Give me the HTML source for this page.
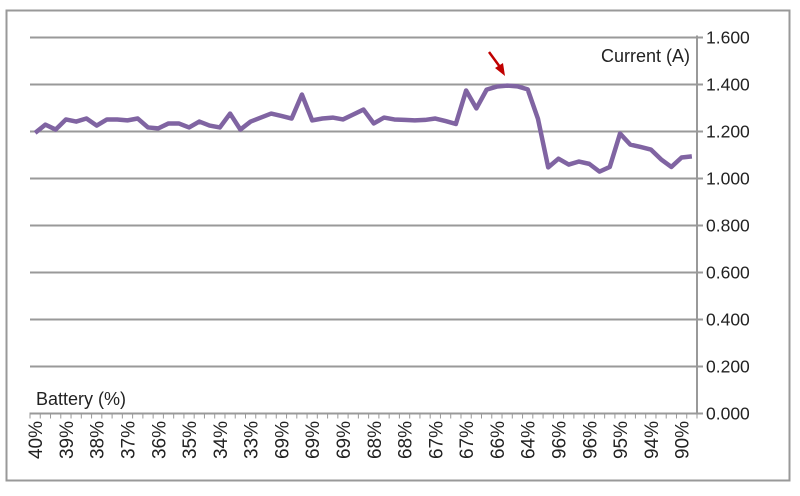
<!DOCTYPE html>
<html><head><meta charset="utf-8"><style>
body{margin:0;background:#fff;}
svg text{font-family:"Liberation Sans",sans-serif;}
</style></head><body>
<svg id="chart" width="800" height="491" xmlns="http://www.w3.org/2000/svg">
<rect x="6.5" y="10.5" width="783" height="470" fill="#fff" stroke="#999" stroke-width="2"/>
<g id="grid"></g><g id="axes"></g><g id="series"></g>
<text x="690" y="62" text-anchor="end" font-size="18" fill="#222">Current (A)</text>
<text x="36" y="405" font-size="18" fill="#222">Battery (%)</text>
<g>
<line x1="489" y1="52" x2="500" y2="67" stroke="#c00000" stroke-width="2.5"/>
<polygon points="505,76 495,68 503,63" fill="#c00000"/>
</g>
</svg>
<script>
const xLabels=["40%","39%","38%","37%","36%","35%","34%","33%","69%","69%","69%","68%","68%","67%","67%","66%","64%","96%","96%","95%","94%","90%"];
const values=[1.19,1.225,1.204,1.247,1.238,1.251,1.221,1.247,1.247,1.243,1.251,1.213,1.209,1.23,1.23,1.213,1.238,1.221,1.213,1.272,1.204,1.238,1.255,1.272,1.262,1.251,1.353,1.243,1.251,1.255,1.247,1.268,1.289,1.23,1.255,1.247,1.245,1.243,1.245,1.251,1.24,1.228,1.37,1.294,1.374,1.387,1.391,1.388,1.375,1.25,1.043,1.08,1.055,1.068,1.058,1.025,1.045,1.187,1.14,1.13,1.119,1.077,1.045,1.085,1.09];
const yTicks=[0,0.2,0.4,0.6,0.8,1.0,1.2,1.4,1.6];
const NS="http://www.w3.org/2000/svg";
const X0=30,X1=697,Y0=412.5,Y1=36.5;
const n=values.length,w=(X1-X0)/n;
const xs=i=>X0+w*(i+0.5);
const ys=v=>Y0-(v/1.6)*(Y0-Y1);
function mk(t,a,p){const e=document.createElementNS(NS,t);for(const k in a)e.setAttribute(k,a[k]);p.appendChild(e);return e;}
const grid=document.getElementById('grid'),axes=document.getElementById('axes'),ser=document.getElementById('series');
yTicks.forEach(v=>{
 const y=Math.round(ys(v))+0.5;
 const l=mk('line',{x1:X0,x2:X1+6,y1:y,y2:y,stroke:'#999','stroke-width':2},grid);
 
 
 const t=mk('text',{x:706,y:y+6,'font-size':17.5,fill:'#222'},axes);
 t.textContent=v.toFixed(3);
 
 
});
const ax=mk('line',{x1:X1,x2:X1,y1:Y1-1,y2:Y0+1,stroke:'#999','stroke-width':2},axes);


for(let i=0;i<=n;i++){
 const x=X0+w*i;
 const tk=mk('line',{x1:x,x2:x,y1:Y0,y2:Y0+6,stroke:'#999','stroke-width':1},axes);
 
 
}
xLabels.forEach((s,k)=>{
 const x=xs(k*3)+7;
 const t=mk('text',{x:x,y:421,'font-size':19,fill:'#222','text-anchor':'end',transform:`rotate(-90 ${x} 421)`},axes);
 t.textContent=s;
 
 
});
const p=mk('polyline',{points:values.map((v,i)=>xs(i)+','+ys(v)).join(' '),fill:'none',stroke:'#8064a2','stroke-width':4.5,'stroke-linejoin':'round'},ser);


</script>
</body></html>
